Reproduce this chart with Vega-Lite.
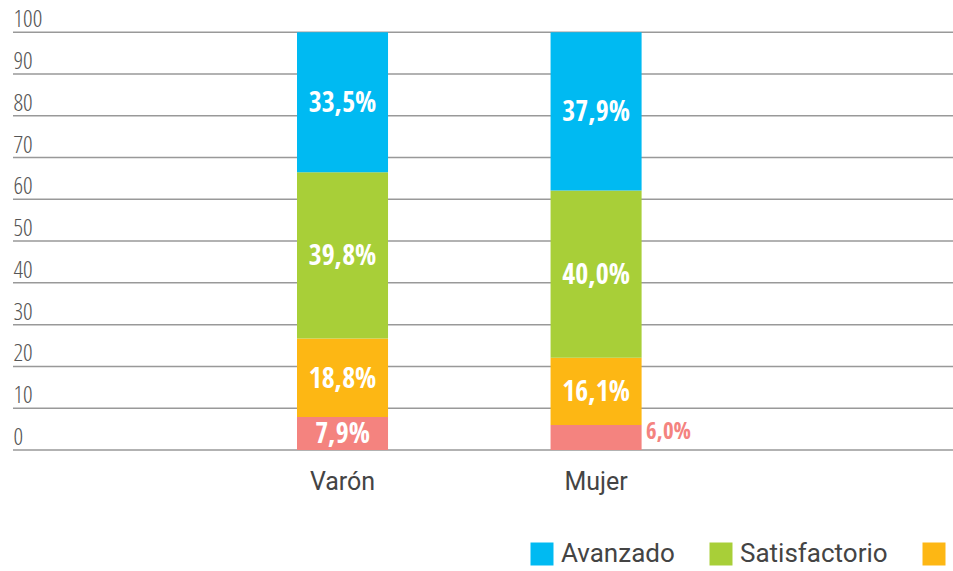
{
  "$schema": "https://vega.github.io/schema/vega-lite/v6.json",
  "width": 940,
  "height": 450,
  "autosize": {"type": "none"},
  "padding": {"left": 13, "top": 0, "right": 0, "bottom": 121},
  "background": "white",
  "config": {"view": {"stroke": null}},
  "datasets": {
    "niveles": [
      {"categoria": "Varón", "nivel": "Por debajo del nivel básico", "orden": 1, "valor": 7.9, "etiqueta": "7,9%"},
      {"categoria": "Varón", "nivel": "Básico", "orden": 2, "valor": 18.8, "etiqueta": "18,8%"},
      {"categoria": "Varón", "nivel": "Satisfactorio", "orden": 3, "valor": 39.8, "etiqueta": "39,8%"},
      {"categoria": "Varón", "nivel": "Avanzado", "orden": 4, "valor": 33.5, "etiqueta": "33,5%"},
      {"categoria": "Mujer", "nivel": "Por debajo del nivel básico", "orden": 1, "valor": 6.0, "etiqueta": "6,0%"},
      {"categoria": "Mujer", "nivel": "Básico", "orden": 2, "valor": 16.1, "etiqueta": "16,1%"},
      {"categoria": "Mujer", "nivel": "Satisfactorio", "orden": 3, "valor": 40.0, "etiqueta": "40,0%"},
      {"categoria": "Mujer", "nivel": "Avanzado", "orden": 4, "valor": 37.9, "etiqueta": "37,9%"}
    ],
    "grilla": [
      {"v": 0}, {"v": 10}, {"v": 20}, {"v": 30}, {"v": 40}, {"v": 50},
      {"v": 60}, {"v": 70}, {"v": 80}, {"v": 90}, {"v": 100}
    ]
  },
  "layer": [
    {
      "data": {"name": "grilla"},
      "mark": {"type": "rule", "color": "#999999", "strokeWidth": 1.5},
      "encoding": {
        "y": {"field": "v", "type": "quantitative"}
      }
    },
    {
      "data": {"name": "niveles"},
      "transform": [
        {"stack": "valor", "groupby": ["categoria"], "sort": [{"field": "orden", "order": "ascending"}], "as": ["y0", "y1"]}
      ],
      "mark": {"type": "bar"},
      "encoding": {
        "x": {
          "field": "categoria",
          "type": "nominal",
          "sort": ["Varón", "Mujer"],
          "scale": {"range": [284, 628.6], "paddingInner": 0.641, "paddingOuter": 0},
          "axis": {
            "title": null,
            "domain": false,
            "ticks": false,
            "grid": false,
            "labelAngle": 0,
            "labelFont": "Roboto",
            "labelFontSize": 25,
            "labelColor": "#444444",
            "labelPadding": 19
          }
        },
        "y": {
          "field": "y0",
          "type": "quantitative",
          "scale": {"domain": [0, 107.7], "nice": false, "zero": true},
          "axis": {
            "title": null,
            "values": [0, 10, 20, 30, 40, 50, 60, 70, 80, 90, 100],
            "grid": false,
            "domain": false,
            "ticks": false,
            "tickSize": 0,
            "labelAlign": "left",
            "labelBaseline": "alphabetic",
            "labelPadding": 0,
            "labelDx": 1,
            "labelOffset": -5.5,
            "labelFont": "Open Sans Condensed Light, Open Sans Condensed, Roboto Condensed Light, Roboto Condensed, Liberation Sans Narrow, Roboto",
            "labelFontSize": 24,
            "labelFontWeight": 300,
            "labelColor": "#555555"
          }
        },
        "y2": {"field": "y1"},
        "color": {
          "field": "nivel",
          "type": "nominal",
          "scale": {
            "domain": ["Avanzado", "Satisfactorio", "Básico", "Por debajo del nivel básico"],
            "range": ["#00BAF2", "#A8CF38", "#FDB714", "#F4837F"]
          },
          "legend": {
            "title": null,
            "orient": "none",
            "legendX": 516,
            "legendY": 541,
            "direction": "horizontal",
            "padding": 0,
            "symbolType": "square",
            "symbolSize": 529,
            "symbolStrokeWidth": 0,
            "labelFont": "Roboto",
            "labelFontSize": 26,
            "labelColor": "#444444",
            "labelOffset": 6,
            "columnPadding": 33,
            "labelLimit": 0
          }
        }
      }
    },
    {
      "data": {"name": "niveles"},
      "transform": [
        {"stack": "valor", "groupby": ["categoria"], "sort": [{"field": "orden", "order": "ascending"}], "as": ["y0", "y1"]},
        {"calculate": "(datum.y0 + datum.y1) / 2", "as": "ymid"},
        {"filter": "!(datum.categoria == 'Mujer' && datum.orden == 1)"}
      ],
      "mark": {"type": "text", "font": "Open Sans Condensed ExtraBold, Open Sans Condensed Bold, Open Sans Condensed, Roboto Condensed, Liberation Sans Narrow, Roboto", "fontWeight": "bold", "fontSize": 28, "color": "white", "baseline": "middle", "dy": 2},
      "encoding": {
        "x": {"field": "categoria", "type": "nominal", "sort": ["Varón", "Mujer"]},
        "y": {"field": "ymid", "type": "quantitative"},
        "text": {"field": "etiqueta"}
      }
    },
    {
      "data": {"name": "niveles"},
      "transform": [
        {"stack": "valor", "groupby": ["categoria"], "sort": [{"field": "orden", "order": "ascending"}], "as": ["y0", "y1"]},
        {"calculate": "(datum.y0 + datum.y1) / 2", "as": "ymid"},
        {"filter": "datum.categoria == 'Mujer' && datum.orden == 1"}
      ],
      "mark": {"type": "text", "font": "Open Sans Condensed ExtraBold, Open Sans Condensed Bold, Open Sans Condensed, Roboto Condensed, Liberation Sans Narrow, Roboto", "fontWeight": "bold", "fontSize": 23, "color": "#F4837F", "align": "left", "baseline": "middle", "dx": 50, "dy": -5},
      "encoding": {
        "x": {"field": "categoria", "type": "nominal", "sort": ["Varón", "Mujer"]},
        "y": {"field": "ymid", "type": "quantitative"},
        "text": {"field": "etiqueta"}
      }
    }
  ]
}
